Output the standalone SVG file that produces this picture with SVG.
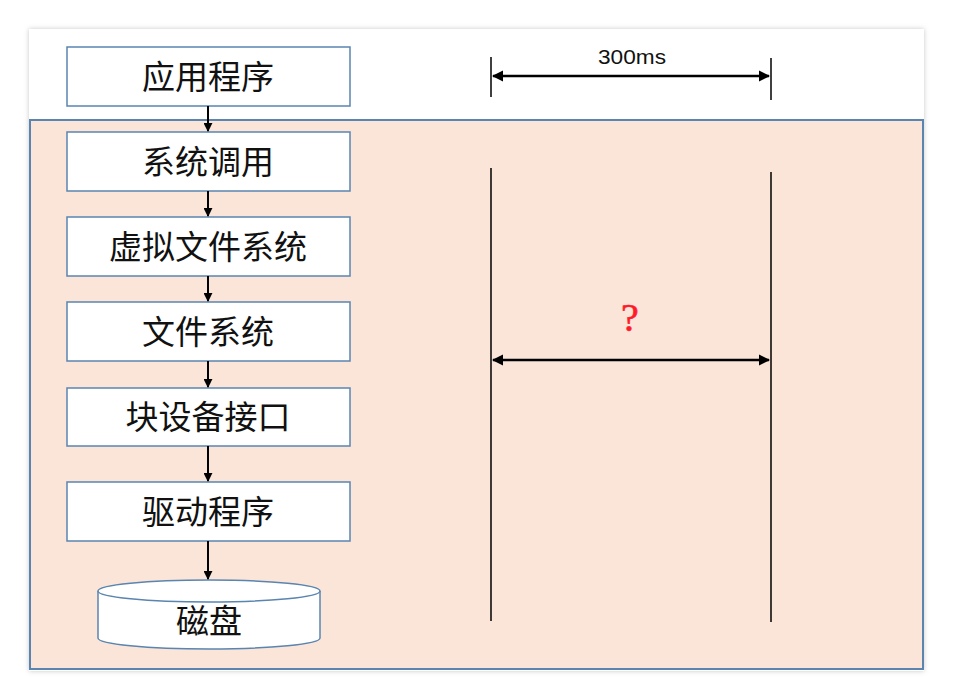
<svg xmlns="http://www.w3.org/2000/svg" width="954" height="690" viewBox="0 0 954 690">
<defs>
<filter id="sh" x="-5%" y="-5%" width="110%" height="110%"><feGaussianBlur stdDeviation="2.5"/></filter>
<marker id="ah" viewBox="0 0 10 10" refX="9" refY="5" markerWidth="4.5" markerHeight="4.5" orient="auto-start-reverse"><path d="M0,0 L10,5 L0,10 Z" fill="#000"/></marker>
<style>
.box{fill:#fff;stroke:#5a85b0;stroke-width:1.5}
.lbl{font-family:"Noto Sans CJK SC","Liberation Sans",sans-serif;font-size:33px;font-weight:400;fill:#111;text-anchor:middle}
.conn line{stroke:#000;stroke-width:2}
.dim{stroke:#000;stroke-width:1.5}
</style>
</defs>
<rect width="954" height="690" fill="#fff"/>
<rect x="29" y="29" width="895" height="642" fill="#c8c8c8" filter="url(#sh)"/>
<rect x="29" y="29" width="895" height="642" fill="#fff"/>
<rect x="30" y="120" width="893" height="549" fill="#fbe4d8" stroke="#5a85b0" stroke-width="2"/>

<g id="n1"><rect class="box" x="67" y="47" width="283" height="59"/><text class="lbl" x="208" y="89">应用程序</text></g>
<g id="n2"><rect class="box" x="67" y="132" width="283" height="59"/><text class="lbl" x="208" y="174">系统调用</text></g>
<g id="n3"><rect class="box" x="67" y="217" width="283" height="59"/><text class="lbl" x="208" y="259">虚拟文件系统</text></g>
<g id="n4"><rect class="box" x="67" y="302" width="283" height="59"/><text class="lbl" x="208" y="344">文件系统</text></g>
<g id="n5"><rect class="box" x="67" y="388" width="283" height="58"/><text class="lbl" x="208" y="429">块设备接口</text></g>
<g id="n6"><rect class="box" x="67" y="482" width="283" height="59"/><text class="lbl" x="208" y="524">驱动程序</text></g>
<g id="n7">
<path class="box" d="M98,591 L98,638 A111,11 0 0 0 320,638 L320,591"/>
<ellipse class="box" cx="209" cy="591" rx="111" ry="11"/>
<text class="lbl" x="209" y="633">磁盘</text>
</g>

<g id="connectors" class="conn">
<line x1="208" y1="106" x2="208" y2="131" marker-end="url(#ah)"/>
<line x1="208" y1="191" x2="208" y2="216" marker-end="url(#ah)"/>
<line x1="208" y1="276" x2="208" y2="301" marker-end="url(#ah)"/>
<line x1="208" y1="361" x2="208" y2="387" marker-end="url(#ah)"/>
<line x1="208" y1="446" x2="208" y2="481" marker-end="url(#ah)"/>
<line x1="208" y1="541" x2="208" y2="579" marker-end="url(#ah)"/>
</g>

<g id="timing">
<line class="dim" x1="491" y1="57" x2="491" y2="97"/>
<line class="dim" x1="771" y1="58" x2="771" y2="100"/>
<line x1="493" y1="76" x2="769" y2="76" stroke="#000" stroke-width="2.5" marker-start="url(#ah)" marker-end="url(#ah)"/>
<text x="632" y="64" font-family="Liberation Sans,Arial,sans-serif" font-size="21" text-anchor="middle" fill="#111" textLength="68" lengthAdjust="spacingAndGlyphs">300ms</text>
<line class="dim" x1="491" y1="168" x2="491" y2="621"/>
<line class="dim" x1="771" y1="172" x2="771" y2="622"/>
<line x1="493" y1="360" x2="769" y2="360" stroke="#000" stroke-width="2.5" marker-start="url(#ah)" marker-end="url(#ah)"/>
<text x="630" y="331" font-family="Liberation Serif,serif" font-size="40" text-anchor="middle" fill="#ff1a2a" stroke="#ff1a2a" stroke-width="0.6">?</text>
</g>
</svg>
